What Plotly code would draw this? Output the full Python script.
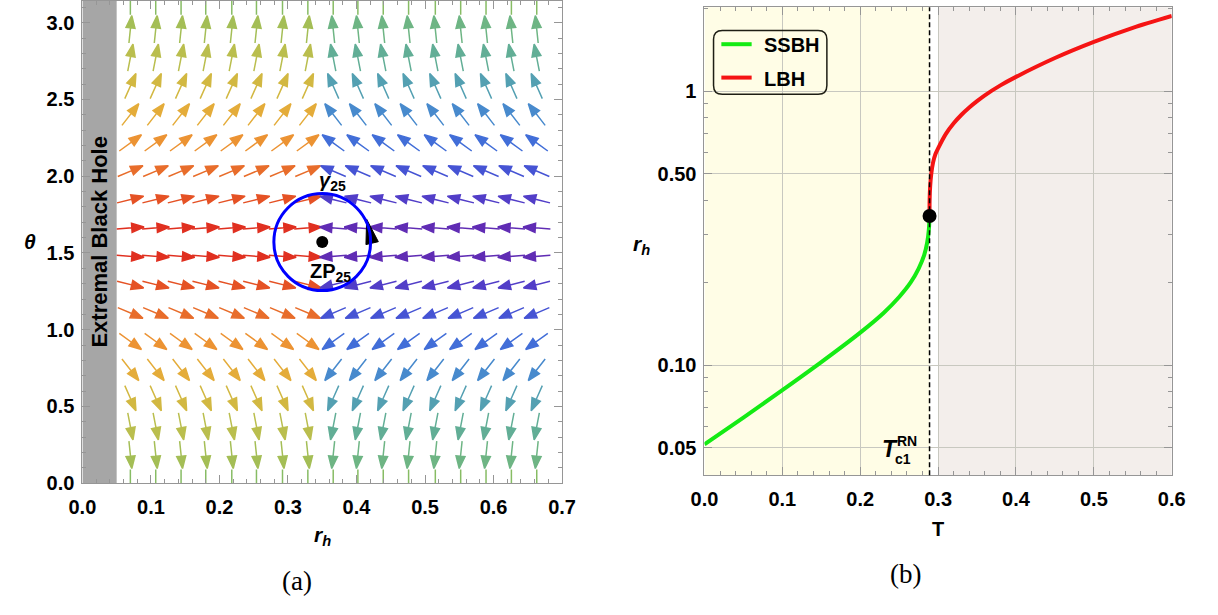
import math
import plotly.graph_objects as go

W, H = 1218, 615

# ---------------- Panel (a) data ----------------
r_cols = [0.070, 0.107, 0.144, 0.180, 0.218, 0.254, 0.292, 0.329,
          0.366, 0.402, 0.439, 0.476, 0.515, 0.552, 0.589, 0.626, 0.663]
theta_rows = [0.000, 0.185, 0.370, 0.554, 0.739, 0.924, 1.109, 1.294, 1.478,
              1.663, 1.848, 2.033, 2.217, 2.402, 2.587, 2.772, 2.957, 3.142]
# screen angle (deg, counter-clockwise from +r) of arrows left of the zero point
angle_left = [-90, -84, -79, -66, -52, -36, -23, -14, -4,
              4, 14, 23, 36, 52, 66, 79, 84, 90]
r_split = 0.35
zp_r, zp_theta = 0.35, 1.5708
loop_dr, loop_dtheta = 0.0706, 0.316
extremal_r = 0.05
a_xticks = [0.0, 0.1, 0.2, 0.3, 0.4, 0.5, 0.6, 0.7]
a_yticks = [0.0, 0.5, 1.0, 1.5, 2.0, 2.5, 3.0]

# ---------------- Panel (b) data ----------------
T_ssbh = [0.0, 0.05, 0.10, 0.15, 0.20, 0.23, 0.25, 0.265, 0.275, 0.282, 0.286, 0.2882, 0.289]
r_ssbh = [0.0515, 0.0645, 0.0812, 0.1028, 0.1317, 0.1554, 0.1777, 0.2012, 0.2257, 0.252, 0.281, 0.315, 0.351]
T_lbh = [0.289, 0.2891, 0.2898, 0.2912, 0.2935, 0.2965, 0.300, 0.310, 0.320, 0.330, 0.340,
         0.350, 0.360, 0.380, 0.400, 0.450, 0.500, 0.550, 0.600]
r_lbh = [0.351, 0.400, 0.450, 0.500, 0.550, 0.590, 0.620, 0.700, 0.765, 0.822, 0.874,
         0.922, 0.968, 1.052, 1.130, 1.324, 1.516, 1.706, 1.885]
T_c1, r_c1 = 0.289, 0.351
T_region2 = 0.30
b_xticks = [0.0, 0.1, 0.2, 0.3, 0.4, 0.5, 0.6]
b_yticks = [0.05, 0.10, 0.50, 1.0]
b_yticktext = ["0.05", "0.10", "0.50", "1"]
b_yminor = [0.04, 0.06, 0.07, 0.08, 0.09, 0.2, 0.3, 0.4, 0.6, 0.7, 0.8, 0.9, 2.0]

# ---------------- geometry (pixels) ----------------
A_L, A_R, A_T, A_B = 70, 561, 1, 492
B_L, B_R, B_T, B_B = 706.7, 1185, 7.3, 484
A_XR = [0, 0.7]
A_YR = [0, math.pi]
B_XR = [0, 0.6]
B_YR = [math.log10(0.0397), math.log10(2.03)]

def px(x):
    return x / W

def py(y):
    return 1 - y / H

sx = (A_R - A_L) / (A_XR[1] - A_XR[0])
sy = (A_B - A_T) / (A_YR[1] - A_YR[0])

FONT = "Liberation Sans, Arial, sans-serif"
SERIF = "Liberation Serif, DejaVu Serif, serif"

stops = [(0, (222, 35, 30)), (15, (229, 85, 38)), (25, (233, 115, 44)), (37, (236, 150, 52)),
         (52, (228, 172, 58)), (66, (210, 184, 66)), (79, (186, 190, 78)), (85, (160, 190, 88)),
         (90, (135, 188, 100)), (95, (112, 182, 128)), (101, (98, 174, 150)), (114, (84, 160, 178)),
         (128, (72, 138, 205)), (144, (66, 110, 216)), (157, (70, 84, 212)), (166, (82, 62, 200)),
         (176, (96, 44, 180)), (180, (100, 40, 175))]

def color_for(a):
    a = max(0, min(180, a))
    for (a0, c0), (a1, c1) in zip(stops[:-1], stops[1:]):
        if a0 <= a <= a1:
            t = (a - a0) / (a1 - a0) if a1 > a0 else 0
            c = [round(c0[i] + t * (c1[i] - c0[i])) for i in range(3)]
            return f"rgb({c[0]},{c[1]},{c[2]})"
    return "rgb(0,0,0)"

fig = go.Figure()

# ---------------- arrows of panel (a) ----------------
L, HL, HW = 28.0, 12.5, 4.6
for th, a in zip(theta_rows, angle_left):
    for side in ("L", "R"):
        cols = [r for r in r_cols if (r < r_split) == (side == "L")]
        if side == "L":
            ang = a
        else:
            ang = 180 - a if a >= 0 else -180 - a
        col = color_for(abs(ang))
        ux, uy = math.cos(math.radians(ang)), math.sin(math.radians(ang))
        b = L / 2 - HL
        offs = [(-L / 2 * ux, -L / 2 * uy), (b * ux, b * uy),
                (b * ux - HW * uy, b * uy + HW * ux), (L / 2 * ux, L / 2 * uy),
                (b * ux + HW * uy, b * uy - HW * ux), (b * ux, b * uy)]
        xs, ys = [], []
        for r in cols:
            for ox, oy in offs:
                xs.append(r + ox / sx)
                ys.append(th + oy / sy)
            xs.append(None)
            ys.append(None)
        fig.add_trace(go.Scatter(x=xs, y=ys, mode="lines", fill="toself", fillcolor=col,
                                 line=dict(color=col, width=1.5), hoverinfo="skip",
                                 showlegend=False, xaxis="x", yaxis="y"))

# loop arrowhead (counter-clockwise) on the right side of the contour
t = math.radians(13)
cxp = zp_r + loop_dr * math.cos(t)
cyp = zp_theta + loop_dtheta * math.sin(t)
tx, ty = -math.sin(t), math.cos(t)
hl2, hw2 = 12.5, 6.5
tri = [(hl2 * tx, hl2 * ty), (-hl2 * tx - hw2 * ty, -hl2 * ty + hw2 * tx),
       (-hl2 * tx + hw2 * ty, -hl2 * ty - hw2 * tx), (hl2 * tx, hl2 * ty)]
fig.add_trace(go.Scatter(x=[cxp + o[0] / sx for o in tri], y=[cyp + o[1] / sy for o in tri],
                         mode="lines", fill="toself", fillcolor="black",
                         line=dict(color="black", width=1), hoverinfo="skip",
                         showlegend=False, xaxis="x", yaxis="y"))

# zero point
fig.add_trace(go.Scatter(x=[zp_r], y=[zp_theta], mode="markers",
                         marker=dict(color="black", size=12), showlegend=False,
                         hoverinfo="skip", xaxis="x", yaxis="y"))

# ---------------- panel (b) curves ----------------
fig.add_trace(go.Scatter(x=T_ssbh, y=r_ssbh, mode="lines", name="SSBH",
                         line=dict(color="rgb(20,235,20)", width=4, shape="spline", smoothing=0.8),
                         showlegend=False, xaxis="x2", yaxis="y2"))
fig.add_trace(go.Scatter(x=T_lbh, y=r_lbh, mode="lines", name="LBH",
                         line=dict(color="rgb(245,20,20)", width=4, shape="spline", smoothing=0.8),
                         showlegend=False, xaxis="x2", yaxis="y2"))
fig.add_trace(go.Scatter(x=[T_c1], y=[r_c1], mode="markers",
                         marker=dict(color="black", size=14), showlegend=False,
                         hoverinfo="skip", xaxis="x2", yaxis="y2"))

shapes = []
# extremal black hole band
shapes.append(dict(type="rect", xref="x", yref="y domain", x0=0, x1=extremal_r, y0=0, y1=1,
                   fillcolor="rgb(166,166,166)", line=dict(width=0), layer="below"))
# contour
shapes.append(dict(type="circle", xref="x", yref="y",
                   x0=zp_r - loop_dr, x1=zp_r + loop_dr,
                   y0=zp_theta - loop_dtheta, y1=zp_theta + loop_dtheta,
                   line=dict(color="rgb(0,0,255)", width=3)))
# panel (b) regions
shapes.append(dict(type="rect", xref="x2", yref="y2 domain", x0=0, x1=T_c1, y0=0, y1=1,
                   fillcolor="rgb(255,253,230)", line=dict(width=0), layer="below"))
shapes.append(dict(type="rect", xref="x2", yref="y2 domain", x0=T_region2, x1=0.6, y0=0, y1=1,
                   fillcolor="rgb(243,238,235)", line=dict(width=0), layer="below"))
shapes.append(dict(type="line", xref="x2", yref="y2 domain", x0=T_c1, x1=T_c1, y0=0, y1=1,
                   line=dict(color="black", width=1.5, dash="5px,3px")))

# legend box (rounded)
lx0, ly0, lx1, ly1, rr = 716, 31, 832, 96, 9
def P(xp, yp):
    return f"{px(xp):.5f},{py(yp):.5f}"
path = (f"M {P(lx0 + rr, ly0)} L {P(lx1 - rr, ly0)} Q {P(lx1, ly0)} {P(lx1, ly0 + rr)} "
        f"L {P(lx1, ly1 - rr)} Q {P(lx1, ly1)} {P(lx1 - rr, ly1)} L {P(lx0 + rr, ly1)} "
        f"Q {P(lx0, ly1)} {P(lx0, ly1 - rr)} L {P(lx0, ly0 + rr)} Q {P(lx0, ly0)} {P(lx0 + rr, ly0)} Z")
shapes.append(dict(type="path", xref="paper", yref="paper", path=path,
                   fillcolor="rgba(255,255,255,0)", line=dict(color="rgb(30,30,20)", width=1.5)))
shapes.append(dict(type="line", xref="paper", yref="paper", x0=px(724), x1=px(755), y0=py(45), y1=py(45),
                   line=dict(color="rgb(20,235,20)", width=4)))
shapes.append(dict(type="line", xref="paper", yref="paper", x0=px(724), x1=px(755), y0=py(79), y1=py(79),
                   line=dict(color="rgb(245,20,20)", width=4)))

ann = []
def A(text, x, y, size, family=FONT, angle=0, xanchor="center"):
    ann.append(dict(text=text, x=px(x), y=py(y), xref="paper", yref="paper", showarrow=False,
                    font=dict(family=family, size=size, color="black"), textangle=angle,
                    xanchor=xanchor, yanchor="middle"))

A("<b>Extremal Black Hole</b>", 88, 246, 22, angle=-90)
A("<b><i>γ</i><sub>25</sub></b>", 326, 185, 20)
A("<b>ZP<sub>25</sub></b>", 324, 277, 20)
A("<b><i>θ</i></b>", 16, 246, 21)
A("<b><i>r<sub>h</sub></i></b>", 316, 546, 21)
A("(a)", 290, 592, 27, family=SERIF)
A("<b><i>r<sub>h</sub></i></b>", 642, 249, 21)
A("<b>T</b>", 946, 539, 20)
A("(b)", 912, 584, 27, family=SERIF)
A("<b><i>T</i></b>", 897, 457, 23)
A("<b>RN</b>", 914, 449, 14)
A("<b>c1</b>", 910, 467, 14)
A("<b>SSBH</b>", 766, 46, 20, xanchor="left")
A("<b>LBH</b>", 766, 80, 20, xanchor="left")

axis_common = dict(showline=True, linecolor="rgb(150,150,150)", linewidth=1, mirror="ticks",
                   ticks="inside", ticklen=8, tickcolor="rgb(150,150,150)", tickwidth=1,
                   tickfont=dict(family=FONT, size=20, color="black", weight="bold"),
                   zeroline=False)

fig.update_layout(
    width=W, height=H, margin=dict(l=0, r=0, t=0, b=0),
    paper_bgcolor="white", plot_bgcolor="white", showlegend=False,
    xaxis=dict(domain=[px(A_L), px(A_R)], range=A_XR, anchor="y",
               tickvals=a_xticks, ticktext=[f"{v:.1f}" for v in a_xticks],
               showgrid=False, ticklabelstandoff=6,
               minor=dict(ticks="inside", ticklen=4, tickcolor="rgb(150,150,150)", dtick=0.02, showgrid=False),
               **axis_common),
    yaxis=dict(domain=[py(A_B), py(A_T)], range=A_YR, anchor="x",
               tickvals=a_yticks, ticktext=[f"{v:.1f}" for v in a_yticks],
               showgrid=False, ticklabelstandoff=3,
               minor=dict(ticks="inside", ticklen=4, tickcolor="rgb(150,150,150)", dtick=0.1, showgrid=False),
               **axis_common),
    xaxis2=dict(domain=[px(B_L), px(B_R)], range=B_XR, anchor="y2",
                tickvals=b_xticks, ticktext=[f"{v:.1f}" for v in b_xticks],
                showgrid=True, gridcolor="rgb(200,200,192)", gridwidth=1, ticklabelstandoff=6,
                minor=dict(ticks="inside", ticklen=4, tickcolor="rgb(150,150,150)", dtick=0.02, showgrid=False),
                **axis_common),
    yaxis2=dict(domain=[py(B_B), py(B_T)], range=B_YR, anchor="x2", type="log",
                tickvals=b_yticks, ticktext=b_yticktext,
                showgrid=True, gridcolor="rgb(200,200,192)", gridwidth=1, ticklabelstandoff=3,
                minor=dict(ticks="inside", ticklen=4, tickcolor="rgb(150,150,150)",
                           tickmode="array", tickvals=b_yminor, showgrid=False),
                **axis_common),
    shapes=shapes, annotations=ann,
)

fig.write_html("out.html", post_script="document.body.style.margin='0';")
